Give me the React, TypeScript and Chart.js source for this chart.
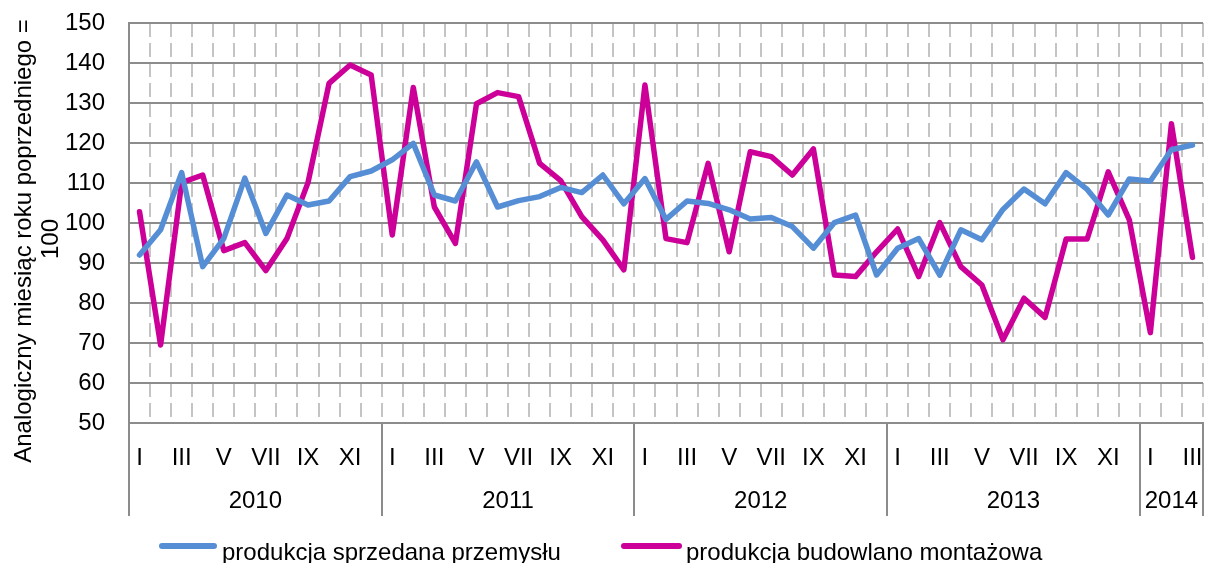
import React, { useEffect, useRef } from 'react';
import { Chart, registerables } from 'chart.js';

Chart.register(...registerables);

const FONT = "'Liberation Sans', Arial, sans-serif";

// Tick labels
const romanMonths = ['I', 'II', 'III', 'IV', 'V', 'VI', 'VII', 'VIII', 'IX', 'X', 'XI', 'XII'];
const years = ['2010', '2011', '2012', '2013', '2014'];
const monthsPerYear = [12, 12, 12, 12, 3];

// Series values (same month of previous year = 100)
const industry = [
  92, 98.3, 112.6, 89.1, 96.1, 111.2, 97.4, 107, 104.5, 105.5, 111.6, 113,
  115.8, 119.9, 107, 105.5, 115.3, 104, 105.6, 106.6, 108.9, 107.6, 112, 104.8,
  111.1, 100.9, 105.5, 104.9, 103.3, 101, 101.4, 99.1, 93.7, 100.1, 102, 87,
  93.7, 96.1, 87, 98.3, 95.8, 103.4, 108.5, 104.8, 112.6, 108.4, 102, 111,
  110.5, 118.3, 119.5,
];
const construction = [
  102.8, 69.5, 110.1, 112, 93.1, 95.1, 88.1, 96.1, 110.1, 134.9, 139.5, 137,
  97, 133.9, 104, 94.9, 129.8, 132.6, 131.6, 114.9, 110.6, 101.6, 95.8, 88.3,
  134.5, 96.1, 95.1, 114.9, 92.8, 117.8, 116.6, 112, 118.5, 87, 86.6, 92.8,
  98.5, 86.6, 100.1, 89.1, 84.5, 70.8, 81.2, 76.4, 96, 96, 112.8, 100.8,
  72.6, 124.8, 91.4,
];

const seriesNames = ['produkcja sprzedana przemysłu', 'produkcja budowlano montażowa'];
const seriesColors = ['#558ED5', '#CC0099'];
const yTitle = ['Analogiczny miesiąc roku poprzedniego =', '100'];

const categories: string[] = [];
const monthIdx: number[] = [];
monthsPerYear.forEach((n) => {
  for (let m = 0; m < n; m++) {
    categories.push(romanMonths[m]);
    monthIdx.push(m);
  }
});

const overlay = {
  id: 'overlay',
  afterDraw(chart: any) {
    const { ctx, chartArea } = chart;
    const xs = chart.scales.x;
    ctx.save();
    // year separators
    ctx.strokeStyle = '#8c8c8c';
    ctx.lineWidth = 2;
    const edges = [0];
    let acc = 0;
    monthsPerYear.forEach((n) => { acc += n; edges.push(acc); });
    edges.forEach((e) => {
      const px = Math.round(xs.getPixelForValue(e - 0.5));
      ctx.beginPath();
      ctx.moveTo(px, chartArea.bottom);
      ctx.lineTo(px, 516);
      ctx.stroke();
    });
    // month labels
    ctx.fillStyle = '#000';
    ctx.font = `24px ${FONT}`;
    ctx.textAlign = 'center';
    ctx.textBaseline = 'middle';
    categories.forEach((lab, i) => {
      if (monthIdx[i] % 2 === 0) ctx.fillText(lab, xs.getPixelForValue(i), 458);
    });
    // year labels
    years.forEach((y, k) => {
      const mid = (edges[k] + edges[k + 1] - 1) / 2;
      ctx.fillText(y, xs.getPixelForValue(mid), 501);
    });
    // y axis title
    ctx.font = `24px ${FONT}`;
    ctx.textBaseline = 'alphabetic';
    ctx.save();
    ctx.translate(31, 241);
    ctx.rotate(-Math.PI / 2);
    ctx.fillText(yTitle[0], 0, 0);
    ctx.restore();
    ctx.save();
    ctx.translate(58, 239);
    ctx.rotate(-Math.PI / 2);
    ctx.fillText(yTitle[1], 0, 0);
    ctx.restore();
    // legend
    const legend = [
      { x1: 162, x2: 214, tx: 222 },
      { x1: 624, x2: 679, tx: 686 },
    ];
    ctx.font = `24px ${FONT}`;
    ctx.textAlign = 'left';
    legend.forEach((l, i) => {
      ctx.strokeStyle = seriesColors[i];
      ctx.lineWidth = 6;
      ctx.lineCap = 'round';
      ctx.beginPath();
      ctx.moveTo(l.x1, 546);
      ctx.lineTo(l.x2, 546);
      ctx.stroke();
      ctx.fillStyle = '#000';
      ctx.fillText(seriesNames[i], l.tx, 560);
    });
    ctx.restore();
  },
};

export default function App() {
  const ref = useRef<HTMLCanvasElement>(null);
  useEffect(() => {
    document.body.style.margin = '0';
    const canvas = ref.current;
    if (!canvas) return;
    const chart = new Chart(canvas, {
      type: 'line',
      data: {
        labels: categories,
        datasets: [
          {
            label: seriesNames[0],
            data: industry,
            borderColor: seriesColors[0],
            backgroundColor: seriesColors[0],
            borderWidth: 5.5,
            pointRadius: 0,
            tension: 0,
            borderJoinStyle: 'round',
            borderCapStyle: 'round',
          },
          {
            label: seriesNames[1],
            data: construction,
            borderColor: seriesColors[1],
            backgroundColor: seriesColors[1],
            borderWidth: 5.5,
            pointRadius: 0,
            tension: 0,
            borderJoinStyle: 'round',
            borderCapStyle: 'round',
          },
        ],
      },
      options: {
        animation: false,
        responsive: false,
        devicePixelRatio: 1,
        layout: { padding: { top: 23, right: 2, bottom: 48, left: 0 } },
        plugins: { legend: { display: false }, tooltip: { enabled: false } },
        scales: {
          x: {
            type: 'category',
            offset: true,
            ticks: { display: false },
            grid: {
              offset: true,
              drawTicks: false,
              color: '#c4c4c4',
              lineWidth: 2,
            },
            border: { display: true, color: '#8c8c8c', width: 2, dash: [14, 6] },
            afterFit: (s: any) => { s.height = 92; },
          },
          y: {
            min: 50,
            max: 150,
            ticks: {
              stepSize: 10,
              padding: 0,
              color: '#000',
              font: { family: FONT, size: 24 },
            },
            grid: {
              drawTicks: true,
              tickLength: 24,
              tickColor: 'rgba(0,0,0,0)',
              color: '#8c8c8c',
              lineWidth: 2,
            },
            border: { display: true, color: '#8c8c8c', width: 2 },
            afterFit: (s: any) => { s.width = 129; },
          },
        },
      },
      plugins: [overlay],
    });
    return () => chart.destroy();
  }, []);
  return <canvas ref={ref} width={1205} height={563} style={{ display: 'block' }} />;
}
